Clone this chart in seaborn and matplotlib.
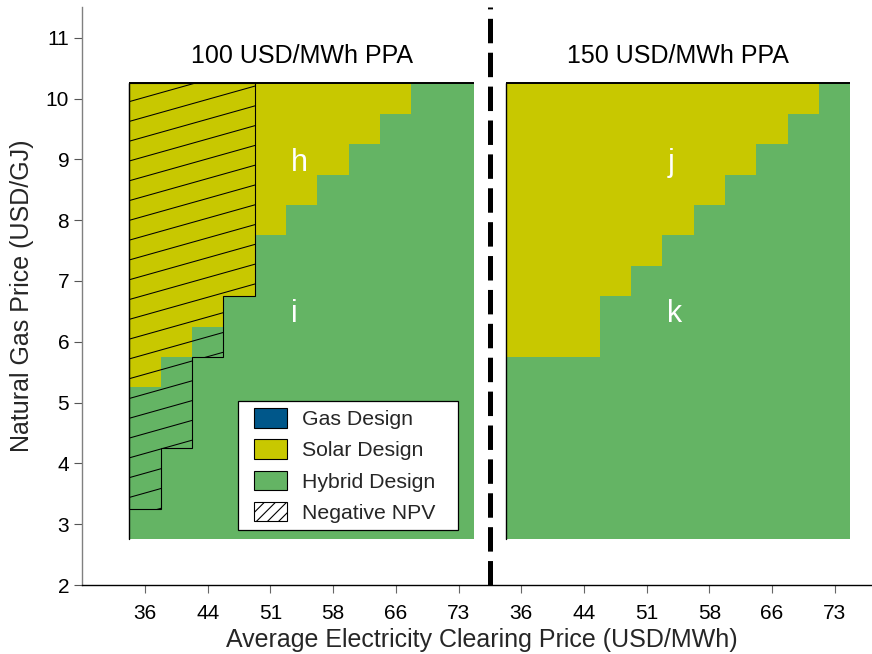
import numpy as np
import pandas as pd
import matplotlib
matplotlib.use("Agg")
import matplotlib.pyplot as plt
from matplotlib.colors import ListedColormap
from matplotlib.patches import Patch, Rectangle, Polygon
from matplotlib.collections import LineCollection
from matplotlib.legend_handler import HandlerPatch
import seaborn as sns

# ---------------------------------------------------------------- data
# Natural gas price of each grid row (USD/GJ), bottom to top
gas_prices = [3.0, 3.5, 4.0, 4.5, 5.0, 5.5, 6.0, 6.5, 7.0, 7.5, 8.0, 8.5, 9.0, 9.5, 10.0]
gas_step = 0.5

# Average electricity clearing price: 11 columns per panel, every other one labelled
n_elec = 11
elec_tick_labels = ["36", "44", "51", "58", "66", "73"]

# Lowest gas price at which the solar design is optimal, per electricity column
# (nan: hybrid design optimal over the whole gas range)
solar_from_100 = [5.5, 6.0, 6.5, 7.0, 8.0, 8.5, 9.0, 9.5, 10.0, np.nan, np.nan]
solar_from_150 = [6.0, 6.0, 6.0, 7.0, 7.5, 8.0, 8.5, 9.0, 9.5, 10.0, np.nan]

# Lowest gas price with a negative NPV, per electricity column (100 USD/MWh PPA)
neg_npv_from_100 = [3.5, 4.5, 6.0, 7.0, np.nan, np.nan, np.nan, np.nan, np.nan, np.nan, np.nan]

panel_titles = ["100 USD/MWh PPA", "150 USD/MWh PPA"]
region_labels = [("h", "i"), ("j", "k")]

design_names = ["Gas Design", "Solar Design", "Hybrid Design"]
GAS, SOLAR, HYBRID = 0, 1, 2

# ---------------------------------------------------------------- style
sns.set_style("ticks")
plt.rcParams["font.family"] = ["Liberation Sans", "DejaVu Sans"]
plt.rcParams["lines.scale_dashes"] = False
plt.rcParams["hatch.linewidth"] = 0.8

design_colors = ["#00578A", "#C8C800", "#64B464"]
cmap = ListedColormap(design_colors)


def design_grid(solar_from):
    thr = np.array(solar_from, dtype=float)[None, :]
    gas = np.array(gas_prices)[:, None]
    return np.where(gas >= thr, SOLAR, HYBRID).astype(float)


def gas_to_y(g):
    """Gas price -> heatmap row coordinate (row edges at half steps)."""
    return (g - (gas_prices[0] - gas_step / 2)) / gas_step


gap = np.full((len(gas_prices), 1), np.nan)
grid = np.hstack([design_grid(solar_from_100), gap, design_grid(solar_from_150)])
panel_x0 = [0, n_elec + 1]
df = pd.DataFrame(grid, index=gas_prices)

# ---------------------------------------------------------------- figure
fig = plt.figure(figsize=(8.72, 6.54), dpi=100)
ax = fig.add_axes([0.0937, 0.1055, 0.9063, 0.8832])

sns.heatmap(df, ax=ax, cmap=cmap, vmin=-0.5, vmax=2.5, cbar=False,
            xticklabels=False, yticklabels=False)

ax.set_xlim(-1.52, 23.69)
ax.set_ylim(gas_to_y(2.0), gas_to_y(11.5))

y_top = gas_to_y(gas_prices[-1] + gas_step / 2)
y_bot = gas_to_y(gas_prices[0] - gas_step / 2)

# panel outlines (top and left edges)
for x0 in panel_x0:
    ax.plot([x0, x0 + n_elec], [y_top, y_top], color="black", lw=1.4,
            solid_capstyle="butt", zorder=4)
    ax.plot([x0, x0], [y_bot, y_top], color="black", lw=1.0, zorder=4)

# negative-NPV region outline with shallow hatch lines
neg_cols = [c for c, t in enumerate(neg_npv_from_100) if np.isfinite(t)]
verts = [(0, y_top), (neg_cols[-1] + 1, y_top)]
for c in reversed(neg_cols):
    yb = gas_to_y(neg_npv_from_100[c] - gas_step / 2)
    verts += [(c + 1, yb), (c, yb)]
neg_patch = Polygon(verts, closed=True, fill=False, edgecolor="black", lw=0.8, zorder=5)
ax.add_patch(neg_patch)

hatch_slope, hatch_gap = 0.29, 0.651
x_a, x_b = -1.0, neg_cols[-1] + 2.0
segs = []
for k in range(-40, 6):
    y0 = 14.91 + k * hatch_gap
    segs.append([(x_a, y0 + hatch_slope * (x_a - 4)), (x_b, y0 + hatch_slope * (x_b - 4))])
hatch = LineCollection(segs, colors="black", linewidths=0.75, zorder=5)
ax.add_collection(hatch)
hatch.set_clip_path(neg_patch)

# panel titles and region letters
for x0, title, (upper, lower) in zip(panel_x0, panel_titles, region_labels):
    ax.text(x0 + n_elec / 2, gas_to_y(10.59), title, ha="center", va="baseline",
            fontsize=18, color="black")
    ax.text(x0 + 5.16, gas_to_y(8.81), upper, ha="left", va="baseline",
            fontsize=22, color="white", zorder=6)
    ax.text(x0 + 5.16, gas_to_y(6.32), lower, ha="left", va="baseline",
            fontsize=22, color="white", zorder=6)

# dashed divider between the two PPA cases
ax.plot([n_elec + 0.5, n_elec + 0.5], [gas_to_y(2.0), gas_to_y(11.5)],
        color="black", lw=3.6, dashes=(17.6, 6.8), solid_capstyle="butt",
        dash_capstyle="butt", clip_on=False, zorder=7)

# axes, ticks and labels
xt = [x0 + c + 0.5 for x0 in panel_x0 for c in range(0, n_elec, 2)]
ax.set_xticks(xt)
ax.set_xticklabels(elec_tick_labels * 2)
y_tick_vals = list(range(2, 12))
ax.set_yticks([gas_to_y(v) for v in y_tick_vals])
ax.set_yticklabels([str(v) for v in y_tick_vals], rotation=0)

ax.tick_params(axis="x", direction="out", length=6, width=0.8, color="#666666",
               labelsize=15, pad=7.7, labelcolor="black")
ax.tick_params(axis="y", direction="out", length=5.5, width=0.8, color="#555555",
               labelsize=15, pad=3.5, labelcolor="black", labelrotation=0)

for side in ["left", "bottom"]:
    ax.spines[side].set_visible(True)
for side in ["top", "right"]:
    ax.spines[side].set_visible(False)
ax.spines["left"].set_color("#808080")
ax.spines["left"].set_linewidth(1.0)
ax.spines["bottom"].set_color("black")
ax.spines["bottom"].set_linewidth(1.0)

ax.set_xlabel("Average Electricity Clearing Price (USD/MWh)", fontsize=18)
ax.set_ylabel("Natural Gas Price (USD/GJ)", fontsize=18)
ax.xaxis.set_label_coords(0.5065, -0.0736)
ax.yaxis.set_label_coords(-0.0604, 0.5)


# legend
class InsetPatchHandler(HandlerPatch):
    def __init__(self, inset_em, **kw):
        super().__init__(**kw)
        self.inset_em = inset_em

    def create_artists(self, legend, orig_handle, xdescent, ydescent,
                       width, height, fontsize, trans):
        inset = self.inset_em * fontsize
        p = Rectangle((-xdescent + inset, -ydescent), width - inset, height)
        self.update_prop(p, orig_handle, legend)
        p.set_transform(trans)
        return [p]


handles = [Patch(facecolor=col, edgecolor="black", lw=0.8, label=name)
           for col, name in zip(design_colors, design_names)]
handles.append(Patch(facecolor="white", edgecolor="black", lw=0.8, hatch="///",
                     label="Negative NPV"))
handler = InsetPatchHandler(0.42)
leg = ax.legend(handles=handles, loc="lower left",
                bbox_to_anchor=(0.1982, 0.0952, 0.2784, 0.2), mode="expand",
                borderaxespad=0, fontsize=15.3, frameon=True, fancybox=False,
                framealpha=1, edgecolor="black", borderpad=0.336,
                handlelength=1.94, handleheight=1.04, handletextpad=0.73,
                labelspacing=0.48,
                handler_map={Patch: handler})
leg.get_frame().set_linewidth(0.9)
leg.set_zorder(8)

fig.savefig("out.png", dpi=100)
